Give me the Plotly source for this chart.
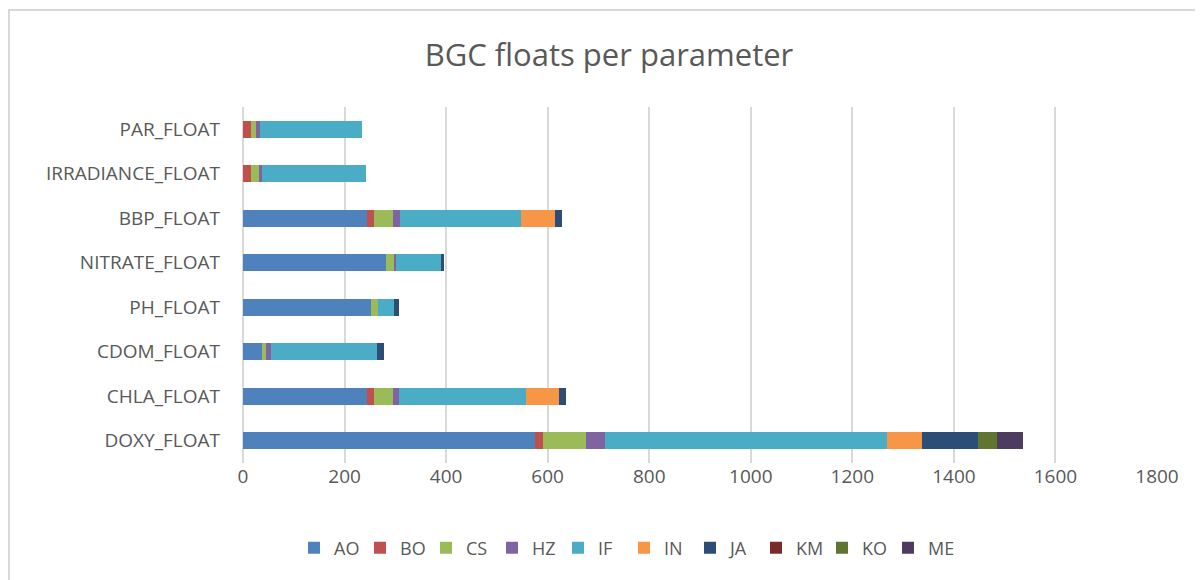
import plotly.graph_objects as go

categories = ["PAR_FLOAT", "IRRADIANCE_FLOAT", "BBP_FLOAT", "NITRATE_FLOAT",
              "PH_FLOAT", "CDOM_FLOAT", "CHLA_FLOAT", "DOXY_FLOAT"]

AO = [0, 0, 245, 282, 253, 37, 244, 576]
BO = [15, 15, 13, 0, 0, 0, 13, 15]
CS = [11, 17, 37, 16, 12, 8, 38, 85]
HZ = [7, 5, 14, 4, 0, 10, 12, 37]
IF = [201, 205, 239, 87, 33, 208, 250, 556]
IN = [0, 0, 66, 0, 0, 0, 66, 69]
JA = [0, 0, 14, 7, 10, 14, 14, 110]
KM = [0, 0, 0, 0, 0, 0, 0, 0]
KO = [0, 0, 0, 0, 0, 0, 0, 36]
ME = [0, 0, 0, 0, 0, 0, 0, 52]

series_names = ["AO", "BO", "CS", "HZ", "IF", "IN", "JA", "KM", "KO", "ME"]
series_values = [AO, BO, CS, HZ, IF, IN, JA, KM, KO, ME]
colors = ["#4F81BD", "#C0504D", "#9BBB59", "#8064A2", "#4BACC6",
          "#F79646", "#2C4D75", "#772C2A", "#5F7530", "#4D3B62"]

x_ticks = [0, 200, 400, 600, 800, 1000, 1200, 1400, 1600, 1800]

fig = go.Figure()
for name, vals, col in zip(series_names, series_values, colors):
    fig.add_trace(go.Bar(
        y=categories, x=vals, name=name, orientation="h",
        marker=dict(color=col, line=dict(width=0)),
    ))

FONT = "Open Sans"
GRAY = "#595959"

# page body has an 8px margin: figure is laid out in its own coordinates
W, H = 1195, 572
L, R, T, B = 235, 46, 99, 117
pw, ph = W - L - R, H - T - B
def px2x(px):
    return (px - L) / pw
def py2y(py):
    return (H - B - py) / ph

fig.update_layout(
    width=W, height=H,
    barmode="stack",
    bargap=0.62,
    plot_bgcolor="white",
    paper_bgcolor="white",
    margin=dict(l=L, r=R, t=T, b=B),
    title=dict(text="BGC floats per parameter", x=(609 - 8) / W, xref="container",
               xanchor="center", y=1 - 47 / H, yref="container", yanchor="middle",
               font=dict(family=FONT, size=31, color=GRAY)),
    xaxis=dict(range=[0, 1800], tickvals=x_ticks, showgrid=True,
               gridcolor="#D9D9D9", gridwidth=1.5, zeroline=True,
               zerolinecolor="#D9D9D9", zerolinewidth=1.5, showline=False,
               tickfont=dict(family=FONT, size=19, color=GRAY), ticks="",
               fixedrange=True),
    yaxis=dict(categoryorder="array", categoryarray=categories,
               autorange="reversed", showgrid=False, zeroline=False,
               showline=False, ticks="", ticklabelstandoff=22,
               tickfont=dict(family=FONT, size=19, color=GRAY)),
    legend=dict(orientation="h", xref="container", x=(624 - 8) / W, xanchor="center",
                yref="container", y=1 - 540 / H, yanchor="middle",
                entrywidth=21, entrywidthmode="pixels", traceorder="normal",
                itemwidth=30,
                font=dict(family=FONT, size=18, color=GRAY)),
    showlegend=True,
    shapes=[dict(type="rect", xref="paper", yref="paper",
                 x0=px2x(1), x1=px2x(1215), y0=py2y(600), y1=py2y(2),
                 line=dict(color="#D9D9D9", width=2), layer="below")],
)

fig.write_html("out.html")
